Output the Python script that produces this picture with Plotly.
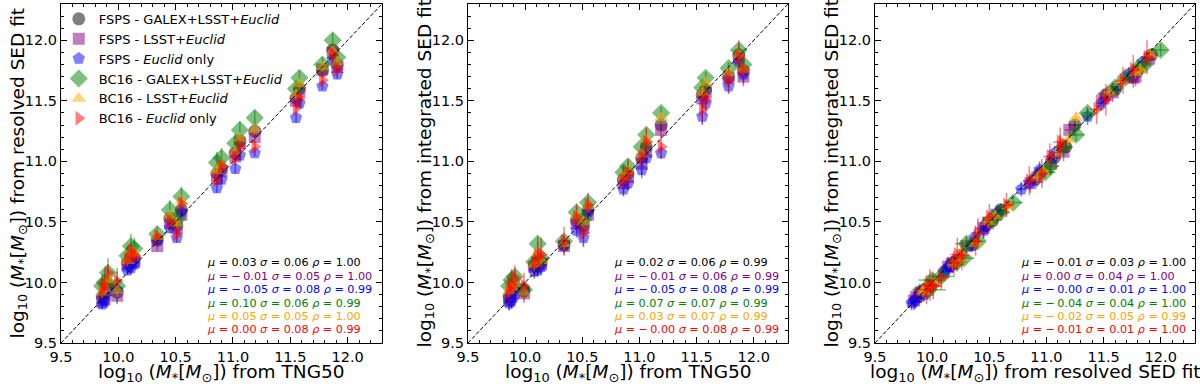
import plotly.graph_objects as go

# TNG50 stellar masses of the galaxies (log10 Msun)
tng = [9.86, 9.88, 9.91, 9.99, 10.08, 10.11, 10.14, 10.34, 10.45, 10.51, 10.55,
       10.86, 10.90, 11.02, 11.06, 11.19, 11.55, 11.58, 11.78, 11.87, 11.91]

# resolved SED fit
res_fsps_all = [9.88, 9.90, 9.99, 9.92, 10.16, 10.22, 10.20, 10.35, 10.53, 10.47, 10.60,
                10.90, 10.94, 11.07, 11.17, 11.25, 11.52, 11.60, 11.75, 11.92, 11.80]
res_fsps_lsst = [9.84, 9.86, 9.96, 9.89, 10.14, 10.18, 10.17, 10.30, 10.49, 10.45, 10.56,
                 10.86, 10.92, 11.04, 11.15, 11.20, 11.50, 11.58, 11.76, 11.90, 11.78]
res_fsps_euc = [9.82, 9.85, 9.93, 9.94, 10.10, 10.12, 10.15, 10.35, 10.45, 10.37, 10.58,
                10.78, 10.85, 10.94, 11.05, 11.07, 11.36, 11.48, 11.62, 11.84, 11.72]
res_bc_all = [9.97, 10.00, 10.08, 9.97, 10.22, 10.30, 10.28, 10.40, 10.60, 10.52, 10.71,
              10.99, 11.03, 11.15, 11.26, 11.36, 11.60, 11.69, 11.80, 12.00, 11.86]
res_bc_lsst = [9.92, 9.95, 10.02, 9.93, 10.18, 10.25, 10.24, 10.38, 10.55, 10.49, 10.67,
               10.92, 10.97, 11.08, 11.19, 11.26, 11.55, 11.64, 11.78, 11.91, 11.82]
res_bc_euc = [9.95, 9.98, 10.08, 10.01, 10.19, 10.26, 10.22, 10.38, 10.50, 10.40, 10.65,
              10.85, 10.96, 11.03, 11.12, 11.12, 11.44, 11.52, 11.67, 11.88, 11.76]

# integrated SED fit
int_fsps_all = [9.88, 9.92, 9.97, 9.93, 10.14, 10.18, 10.17, 10.31, 10.51, 10.47, 10.60,
                10.85, 10.90, 11.03, 11.12, 11.30, 11.55, 11.59, 11.70, 11.88, 11.75]
int_fsps_lsst = [9.85, 9.88, 9.94, 9.91, 10.13, 10.16, 10.15, 10.30, 10.49, 10.45, 10.56,
                 10.82, 10.87, 10.98, 11.08, 11.26, 11.52, 11.57, 11.69, 11.85, 11.70]
int_fsps_euc = [9.83, 9.85, 9.90, 9.94, 10.09, 10.10, 10.13, 10.31, 10.43, 10.37, 10.58,
                10.77, 10.82, 10.93, 11.03, 11.07, 11.37, 11.48, 11.62, 11.82, 11.72]
int_bc_all = [9.97, 10.02, 10.05, 9.94, 10.17, 10.32, 10.20, 10.34, 10.58, 10.52, 10.66,
              10.91, 10.96, 11.12, 11.22, 11.40, 11.61, 11.69, 11.77, 11.92, 11.80]
int_bc_lsst = [9.93, 9.96, 9.99, 9.92, 10.15, 10.24, 10.18, 10.32, 10.55, 10.50, 10.63,
               10.87, 10.92, 11.06, 11.18, 11.36, 11.57, 11.65, 11.73, 11.88, 11.76]
int_bc_euc = [9.94, 9.98, 10.04, 9.97, 10.16, 10.22, 10.23, 10.34, 10.54, 10.41, 10.64,
              10.84, 10.90, 11.04, 11.16, 11.12, 11.43, 11.51, 11.67, 11.86, 11.76]

# uncertainties, resolved fit
err_res_fsps_all = [0.05, 0.04, 0.04, 0.05, 0.04, 0.05, 0.04, 0.04, 0.04, 0.05, 0.04,
                    0.05, 0.04, 0.05, 0.04, 0.05, 0.04, 0.05, 0.04, 0.05, 0.04]
err_res_fsps_lsst = [0.05, 0.05, 0.04, 0.06, 0.05, 0.04, 0.05, 0.04, 0.05, 0.04, 0.05,
                     0.04, 0.05, 0.04, 0.05, 0.04, 0.05, 0.04, 0.05, 0.04, 0.05]
err_res_fsps_euc = [0.04, 0.04, 0.05, 0.04, 0.04, 0.05, 0.04, 0.03, 0.04, 0.04, 0.04,
                    0.04, 0.04, 0.04, 0.04, 0.03, 0.04, 0.04, 0.03, 0.04, 0.04]
err_res_bc_all = [0.10, 0.12, 0.12, 0.15, 0.08, 0.10, 0.09, 0.06, 0.08, 0.07, 0.08,
                  0.09, 0.08, 0.08, 0.07, 0.06, 0.05, 0.06, 0.06, 0.06, 0.06]
err_res_bc_lsst = [0.05, 0.05, 0.06, 0.05, 0.05, 0.05, 0.05, 0.04, 0.05, 0.05, 0.05,
                   0.05, 0.05, 0.05, 0.05, 0.04, 0.05, 0.05, 0.04, 0.04, 0.05]
err_res_bc_euc = [0.08, 0.08, 0.07, 0.08, 0.06, 0.07, 0.06, 0.05, 0.06, 0.06, 0.06,
                  0.06, 0.05, 0.06, 0.06, 0.05, 0.06, 0.06, 0.05, 0.06, 0.06]

# uncertainties, integrated fit
err_int_fsps_all = [0.05, 0.05, 0.05, 0.05, 0.05, 0.05, 0.05, 0.04, 0.05, 0.05, 0.05,
                    0.05, 0.05, 0.05, 0.05, 0.04, 0.05, 0.05, 0.04, 0.05, 0.05]
err_int_fsps_lsst = [0.08, 0.09, 0.08, 0.08, 0.08, 0.08, 0.07, 0.07, 0.08, 0.09, 0.07,
                     0.08, 0.08, 0.09, 0.08, 0.07, 0.08, 0.08, 0.08, 0.07, 0.08]
err_int_fsps_euc = [0.06, 0.07, 0.06, 0.06, 0.06, 0.05, 0.06, 0.05, 0.06, 0.07, 0.06,
                    0.06, 0.06, 0.07, 0.06, 0.05, 0.07, 0.06, 0.06, 0.05, 0.06]
err_int_bc_all = [0.05, 0.05, 0.05, 0.06, 0.05, 0.06, 0.05, 0.05, 0.05, 0.05, 0.05,
                  0.05, 0.05, 0.05, 0.05, 0.05, 0.05, 0.05, 0.05, 0.05, 0.05]
err_int_bc_lsst = [0.05, 0.05, 0.06, 0.05, 0.05, 0.05, 0.04, 0.05, 0.05, 0.05, 0.05,
                   0.05, 0.04, 0.05, 0.05, 0.05, 0.05, 0.05, 0.05, 0.04, 0.05]
err_int_bc_euc = [0.12, 0.13, 0.10, 0.11, 0.10, 0.12, 0.14, 0.12, 0.11, 0.12, 0.10,
                  0.12, 0.12, 0.11, 0.12, 0.10, 0.12, 0.13, 0.11, 0.14, 0.12]

names = ["FSPS - GALEX+LSST+<i>Euclid</i>", "FSPS - LSST+<i>Euclid</i>",
         "FSPS - <i>Euclid</i> only", "BC16 - GALEX+LSST+<i>Euclid</i>",
         "BC16 - LSST+<i>Euclid</i>", "BC16 - <i>Euclid</i> only"]

# statistics printed in each panel: mu | sigma | rho
stats_p1 = ["0.03|0.06|1.00", "−0.01|0.05|1.00", "−0.05|0.08|0.99",
            "0.10|0.06|0.99", "0.05|0.05|1.00", "0.00|0.08|0.99"]
stats_p2 = ["0.02|0.06|0.99", "−0.01|0.06|0.99", "−0.05|0.08|0.99",
            "0.07|0.07|0.99", "0.03|0.07|0.99", "−0.00|0.08|0.99"]
stats_p3 = ["−0.01|0.03|1.00", "0.00|0.04|1.00", "−0.00|0.01|1.00",
            "−0.04|0.04|1.00", "−0.02|0.05|0.99", "−0.01|0.01|1.00"]

AX_LO, AX_HI = 9.5, 12.3

colors = ["0,0,0", "128,0,128", "0,0,255", "0,128,0", "255,165,0", "255,0,0"]
text_colors = ["black", "purple", "blue", "green", "orange", "red"]
symbols = ["circle", "square", "pentagon", "diamond", "triangle-up", "triangle-right"]
sizes = [13, 12, 13, 14, 13, 13]

res = [res_fsps_all, res_fsps_lsst, res_fsps_euc, res_bc_all, res_bc_lsst, res_bc_euc]
integ = [int_fsps_all, int_fsps_lsst, int_fsps_euc, int_bc_all, int_bc_lsst, int_bc_euc]
err_res = [err_res_fsps_all, err_res_fsps_lsst, err_res_fsps_euc,
           err_res_bc_all, err_res_bc_lsst, err_res_bc_euc]
err_int = [err_int_fsps_all, err_int_fsps_lsst, err_int_fsps_euc,
           err_int_bc_all, err_int_bc_lsst, err_int_bc_euc]

FONT = "DejaVu Sans"
fig = go.Figure()

panels = [
    ("x", "y", lambda i: tng, lambda i: res[i], None, err_res),
    ("x2", "y2", lambda i: tng, lambda i: integ[i], None, err_int),
    ("x3", "y3", lambda i: res[i], lambda i: integ[i], err_res, err_int),
]

for p, (xa, ya, fx, fy, ex, ey) in enumerate(panels):
    for i in range(6):
        rgba = "rgba(%s,0.5)" % colors[i]
        tr = dict(
            x=fx(i), y=fy(i), mode="markers", xaxis=xa, yaxis=ya,
            name=names[i], legendgroup=names[i], showlegend=(p == 0),
            marker=dict(symbol=symbols[i], size=sizes[i], color=rgba, line=dict(width=0)),
            error_y=dict(type="data", array=ey[i], color=rgba, thickness=1.5, width=0),
        )
        if ex is not None:
            tr["error_x"] = dict(type="data", array=ex[i], color=rgba, thickness=1.5, width=0)
        fig.add_trace(go.Scatter(**tr))
    # 1:1 line
    fig.add_shape(type="line", xref=xa, yref=ya, x0=AX_LO, y0=AX_LO, x1=AX_HI, y1=AX_HI,
                  line=dict(color="black", width=1, dash="4px,2px"))

xdoms = [[61 / 1200, 382 / 1200], [468 / 1200, 788 / 1200], [875 / 1200, 1195 / 1200]]
ydom = [1 - 343 / 384, 1 - 4 / 384]

axis_common = dict(
    range=[AX_LO, AX_HI], showgrid=False, zeroline=False, showline=True,
    linecolor="black", linewidth=1.2, mirror="allticks", ticks="inside",
    ticklen=6, tickwidth=1.2, tickcolor="black", dtick=0.5, tick0=9.5,
    tickformat=".1f", automargin=False,
    tickfont=dict(family=FONT, size=14.5, color="black"),
    minor=dict(ticks="inside", dtick=0.1, ticklen=3, tickwidth=1, tickcolor="black"),
)

layout = dict(
    width=1200, height=384, margin=dict(l=0, r=0, t=0, b=0),
    plot_bgcolor="white", paper_bgcolor="white",
    font=dict(family=FONT, color="black"),
    legend=dict(x=0.049, y=0.99, xanchor="left", yanchor="top",
                bgcolor="rgba(0,0,0,0)", font=dict(family=FONT, size=13),
                tracegroupgap=0),
)
for k in range(3):
    sx = "" if k == 0 else str(k + 1)
    layout["xaxis" + sx] = dict(axis_common, domain=xdoms[k], anchor="y" + sx)
    layout["yaxis" + sx] = dict(axis_common, domain=ydom, anchor="x" + sx)
fig.update_layout(**layout)

mlab = "log<sub>10</sub> (<i>M</i><sub>*</sub>[<i>M</i><sub>⊙</sub>])"
xtitles = [mlab + " from TNG50", mlab + " from TNG50", mlab + " from resolved SED fit"]
ytitles = [mlab + " from resolved SED fit", mlab + " from integrated SED fit",
           mlab + " from integrated SED fit"]
ytitle_x = [18, 425, 832]

for k in range(3):
    sx = "" if k == 0 else str(k + 1)
    fig.add_annotation(text=xtitles[k], xref="x%s domain" % sx, yref="paper",
                       x=0.5, y=1 - 373 / 384, xanchor="center", yanchor="middle",
                       showarrow=False, font=dict(family=FONT, size=18.5))
    fig.add_annotation(text=ytitles[k], xref="paper", yref="paper",
                       x=ytitle_x[k] / 1200, y=(ydom[0] + ydom[1]) / 2, textangle=-90,
                       xanchor="center", yanchor="middle",
                       showarrow=False, font=dict(family=FONT, size=18.5))

for k, stats in enumerate([stats_p1, stats_p2, stats_p3]):
    sx = "" if k == 0 else str(k + 1)
    for j, s in enumerate(stats):
        mu, sig, rho = s.split("|")
        txt = "<i>μ</i> = %s <i>σ</i> = %s <i>ρ</i> = %s" % (mu.replace("−", "−\u2009"), sig, rho)
        fig.add_annotation(text=txt, xref="x%s domain" % sx, yref="y%s domain" % sx,
                           x=0.45, y=0.236 - j * 0.0395, xanchor="left", yanchor="middle",
                           showarrow=False,
                           font=dict(family=FONT, size=11.2, color=text_colors[j]))

fig.write_html("out.html", config={"displayModeBar": False},
               post_script="document.body.style.margin='0px';")
